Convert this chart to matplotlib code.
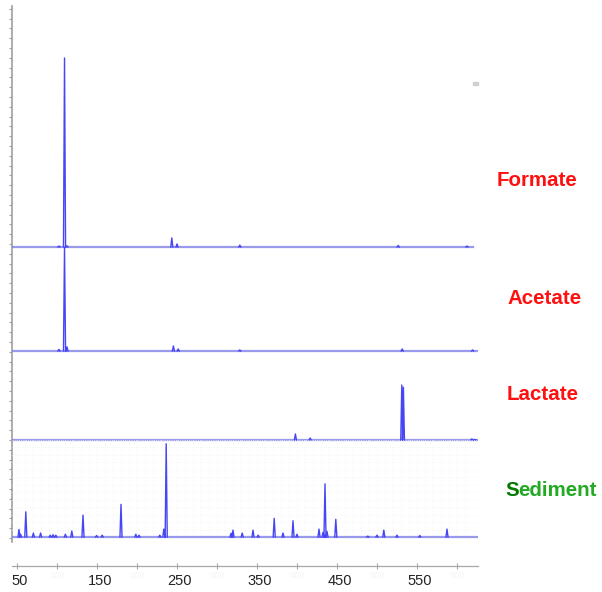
import numpy as np
import matplotlib
matplotlib.use("Agg")
import matplotlib.pyplot as plt

plt.rcParams['font.family'] = ['Liberation Sans', 'DejaVu Sans']

# ------------------------------
# datos: picos (m/z, intensidad relativa %)
# ------------------------------
formate_mz = [102.5, 109.4, 112.5, 243.5, 250, 328.5, 526.5, 612.5]
formate_int = [0.5, 100, 0.6, 4.8, 1.6, 1.0, 0.8, 0.5]

acetate_mz = [102.5, 109.4, 112.5, 245.5, 251.5, 328.5, 531.5, 619.5]
acetate_int = [1.5, 100, 4, 4.8, 2, 1, 2, 1]

lactate_mz = [398, 416.5, 531, 533, 618.5, 622.5]
lactate_int = [11, 3.6, 100, 96, 2, 1]

sediment_mz = [52.5, 54.5, 61, 70.5, 79.5, 91.5, 95, 98.5, 110.5, 118.5,
               132.5, 149.5, 156.5, 180, 198.5, 202.5, 228.5, 233.5, 236.5,
               317.5, 320, 331.5, 345, 351.5, 371.5, 382.5, 395, 400,
               427.5, 432.5, 435, 437.5, 448.5, 488.5, 500, 508.5, 525,
               553.5, 587.5]
sediment_int = [8.2, 3, 27, 4.3, 4.3, 2, 2.5, 2, 3, 6.4,
                23.5, 1.6, 2, 35, 3, 2, 2, 8.5, 100,
                4, 7.4, 4.3, 7.4, 2, 20, 4.3, 17.5, 3,
                8.5, 5, 57, 6, 19, 1, 2, 7.4, 2,
                1.6, 8.5]

nombres = ['Formate', 'Acetate', 'Lactate', 'Sediment']
tick_vals = [50, 100, 150, 200, 250, 300, 350, 400, 450, 500, 550, 600]
tick_labels = ['50', '150', '250', '350', '450', '550']

W, H = 602, 592
x0_px, x1_px = 12, 478
xmin = 50 + (x0_px - 17) / 0.8
xmax = 50 + (x1_px - 17) / 0.8

azul = '#4646f5'

fig = plt.figure(figsize=(W / 100, H / 100), dpi=100)


def fx(px):
    return px / W


def fy(px):
    return 1 - px / H


def espectro(mz, inten, w=1.3):
    xs, ys = [], []
    for m, i in zip(mz, inten):
        xs += [m - w, m, m + w, np.nan]
        ys += [0, i, 0, np.nan]
    return xs, ys


# eje vertical de la izquierda (fondo)
axl = fig.add_axes([fx(x0_px), fy(542), fx(x1_px - x0_px), (542 - 6) / H])
axl.set_xlim(0, 1)
axl.set_ylim(0, 536)
for s in ['top', 'right', 'bottom']:
    axl.spines[s].set_visible(False)
axl.spines['left'].set_color('#a0a0a0')
axl.spines['left'].set_linewidth(1.2)
axl.set_xticks([])
axl.set_yticks(np.arange(4, 536, 9.8))
axl.tick_params(axis='y', length=2, color='#a0a0a0', labelleft=False)
axl.patch.set_alpha(0)

# ------------------------------
# paneles: (base px, tope px, px del pico 100%, fin de la linea)
# ------------------------------
paneles = [
    (formate_mz, formate_int, 247, 10, 189, 620),
    (acetate_mz, acetate_int, 351, 247, 104, 626),
    (lactate_mz, lactate_int, 440, 351, 55, 626),
    (sediment_mz, sediment_int, 537, 440, 94, 628),
]

for k, (mz, inten, base, top, pk, fin) in enumerate(paneles):
    s = 100.0 / pk
    ax = fig.add_axes([fx(x0_px), fy(base + 3), fx(x1_px - x0_px), (base + 3 - top) / H])
    ax.set_xlim(xmin, xmax)
    ax.set_ylim(-3 * s, (base - top) * s)
    ax.axis('off')
    if k == 3:
        ax.axis('on')
        for sp in ax.spines.values():
            sp.set_visible(False)
        ax.set_xticks(np.arange(50, 620, 10))
        ax.set_yticks(np.arange(0, 110, 8))
        ax.tick_params(length=0, labelbottom=False, labelleft=False)
        ax.grid(True, color='#f4f4f4', linestyle=':', linewidth=0.6)
        ax.patch.set_alpha(0)
    ax.plot([xmin + 0.5, fin], [0, 0], color='#7878e6', lw=1.6, alpha=0.75)
    xs, ys = espectro(mz, inten)
    ax.plot(xs, ys, color=azul, lw=1.0)

# ------------------------------
# eje x
# ------------------------------
axx = fig.add_axes([fx(x0_px), fy(566), fx(x1_px - x0_px), 0.001])
axx.set_xlim(xmin, xmax)
for s in ['top', 'right', 'left']:
    axx.spines[s].set_visible(False)
axx.spines['bottom'].set_color('#a8a8a8')
axx.spines['bottom'].set_linewidth(0.9)
axx.set_yticks([])
axx.set_xticks(tick_vals)
axx.set_xticklabels([])
axx.tick_params(axis='x', direction='inout', length=4, color='#a8a8a8')
axx.patch.set_alpha(0)

for i, t in enumerate(tick_labels):
    v = float(t)
    fig.text(fx(17 + (v - 50) * 0.8 + 3), fy(581), t, ha='center', va='center',
             fontsize=10.5, color='#222222')
    v2 = v + 50
    if v2 < 620:
        fig.text(fx(17 + (v2 - 50) * 0.8), fy(575), str(int(v2)), ha='center',
                 va='center', fontsize=6.5, color='#f5f5f5')

# pequeña marca gris arriba a la derecha
fig.patches.append(plt.Rectangle((fx(473), fy(85)), fx(5), 3 / H,
                                 transform=fig.transFigure, color='#d0d0d0'))

# ------------------------------
# etiquetas
# ------------------------------
pos_etiquetas = [(497, 181), (507, 298), (507, 394), (505, 490)]
for nombre, (px, py) in zip(nombres[:3], pos_etiquetas[:3]):
    fig.text(fx(px), fy(py), nombre, ha='left', va='center', fontsize=14.8,
             fontweight='bold', color='#ff1010')

# Sediment: la S en verde más oscuro
px, py = pos_etiquetas[3]
t_s = fig.text(fx(px), fy(py), 'S', ha='left', va='center', fontsize=14.8,
               fontweight='bold', color='#007a00')
fig.canvas.draw()
bb = t_s.get_window_extent(renderer=fig.canvas.get_renderer())
fig.text(bb.x1 / W, fy(py), 'ediment', ha='left', va='center', fontsize=14.8,
         fontweight='bold', color='#22aa22')

fig.savefig('out.png', dpi=100)
